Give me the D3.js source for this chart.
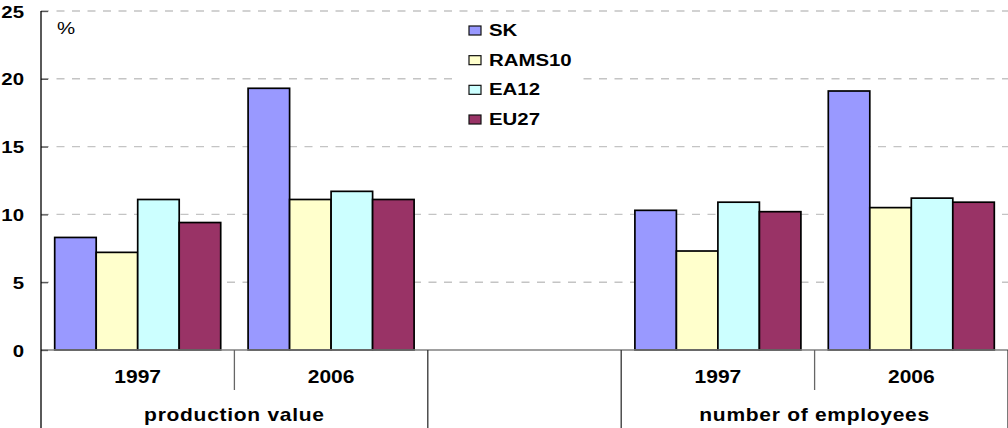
<!DOCTYPE html>
<html>
<head>
<meta charset="utf-8">
<script src="https://cdn.jsdelivr.net/npm/d3@7"></script>
<style>
  html, body { margin: 0; padding: 0; background: #fff; }
  svg { display: block; }
  text { font-family: "Liberation Sans", Arial, sans-serif; fill: #000; }
</style>
</head>
<body>
<svg id="chart" width="1008" height="428"></svg>
<script>
// Category slots along the x axis (an empty slot separates the two groups)
const groups = ["production value", "", "number of employees"];
const slotGroup = ["production value", "production value", "", "number of employees", "number of employees"];
const slotYear = ["1997", "2006", "", "1997", "2006"];

// Series, one value per slot (null = no bar)
const seriesNames = ["SK", "RAMS10", "EA12", "EU27"];
const SK     = [8.3, 19.3, null, 10.3, 19.1];
const RAMS10 = [7.2, 11.1, null, 7.3, 10.5];
const EA12   = [11.1, 11.7, null, 10.9, 11.2];
const EU27   = [9.4, 11.1, null, 10.2, 10.9];
const seriesColors = ["#9999FF", "#FFFFCC", "#CCFFFF", "#993366"];

const yTicks = [0, 5, 10, 15, 20, 25];
const yUnit = "%";

const seriesValues = [SK, RAMS10, EA12, EU27];

const svg = d3.select("#chart");
const plotLeft = 41, plotRight = 1008, plotTop = 11, plotBottom = 350, outerBottom = 428;
const SX = 1.2; // horizontal stretch of the lettering

const x = d3.scaleBand().domain(d3.range(slotYear.length)).range([plotLeft, plotRight]).padding(0);
const xs = d3.scaleBand().domain(seriesNames).range([0, x.bandwidth()]).paddingInner(0).paddingOuter(0.33);
const y = d3.scaleLinear().domain([0, 25]).range([plotBottom, plotTop]);

// dashed gridlines
svg.append("g").selectAll("line")
  .data(yTicks.filter(d => d > 0))
  .join("line")
  .attr("x1", plotLeft).attr("x2", plotRight)
  .attr("y1", d => y(d)).attr("y2", d => y(d))
  .attr("stroke", "#c4c4c4").attr("stroke-width", 1.4)
  .attr("stroke-dasharray", "8,7.5");

// legend background panel (covers gridlines behind it)
const legend = svg.append("g");
legend.append("rect").attr("x", 458).attr("y", 15).attr("width", 124).attr("height", 118).attr("fill", "#fff");

// bars
const barData = [];
seriesValues.forEach((vals, si) => vals.forEach((v, ci) => {
  if (v != null) barData.push({ s: seriesNames[si], c: ci, v, color: seriesColors[si] });
}));
svg.append("g").selectAll("rect")
  .data(barData)
  .join("rect")
  .attr("x", d => x(d.c) + xs(d.s))
  .attr("y", d => y(d.v))
  .attr("width", xs.bandwidth())
  .attr("height", d => y(0) - y(d.v))
  .attr("fill", d => d.color)
  .attr("stroke", "#000").attr("stroke-width", 1.7);

// x axis baseline
svg.append("line").attr("x1", plotLeft).attr("x2", plotRight).attr("y1", y(0)).attr("y2", y(0))
  .attr("stroke", "#808080").attr("stroke-width", 1.6);

// y axis
const yAxis = d3.axisLeft(y).tickValues(yTicks).tickSizeInner(-7).tickSizeOuter(0).tickFormat(d3.format("d"));
const yg = svg.append("g").attr("transform", `translate(${plotLeft},0)`).call(yAxis);
yg.select(".domain").remove();
yg.selectAll(".tick line").attr("stroke", "#555").attr("stroke-width", 1.3);
yg.selectAll(".tick text")
  .attr("x", null).attr("dy", null)
  .attr("transform", `translate(-17,6) scale(${SX},1)`)
  .attr("text-anchor", "end")
  .attr("fill", "#000")
  .style("font-size", "17px").style("font-weight", "bold")
  .style("font-family", "'Liberation Sans', Arial, sans-serif");
yg.attr("font-family", null).attr("font-size", null);
svg.append("line").attr("x1", plotLeft).attr("x2", plotLeft).attr("y1", plotTop).attr("y2", outerBottom)
  .attr("stroke", "#000").attr("stroke-width", 1.3);

// unit label
svg.append("text").attr("transform", `translate(57,34) scale(${SX},1)`)
  .style("font-size", "17px").text(yUnit);

// category separators: short between years, long between groups
const boundaries = d3.range(1, slotYear.length + 1);
const sameGroup = i => i < slotYear.length && slotGroup[i] === slotGroup[i - 1];
svg.append("g").selectAll("line")
  .data(boundaries)
  .join("line")
  .attr("x1", i => i < slotYear.length ? x(i) : plotRight)
  .attr("x2", i => i < slotYear.length ? x(i) : plotRight)
  .attr("y1", plotBottom)
  .attr("y2", i => sameGroup(i) ? 390 : outerBottom)
  .attr("stroke", i => sameGroup(i) ? "#666" : "#333")
  .attr("stroke-width", 1.3);

// year labels
svg.append("g").selectAll("text")
  .data(d3.range(slotYear.length).filter(i => slotYear[i]))
  .join("text")
  .attr("transform", i => `translate(${x(i) + x.bandwidth() / 2},383) scale(${SX},1)`)
  .attr("text-anchor", "middle")
  .style("font-size", "17.5px").style("font-weight", "bold")
  .text(i => slotYear[i]);

// group labels
const groupSpans = groups.filter(g => g).map(g => {
  const idx = d3.range(slotGroup.length).filter(i => slotGroup[i] === g);
  return { g, x0: x(d3.min(idx)), x1: x(d3.max(idx)) + x.bandwidth() };
});
svg.append("g").selectAll("text")
  .data(groupSpans)
  .join("text")
  .attr("transform", d => `translate(${(d.x0 + d.x1) / 2},421) scale(${SX},1)`)
  .attr("text-anchor", "middle")
  .style("font-size", "17.5px").style("font-weight", "bold")
  .style("letter-spacing", "0.6px")
  .text(d => d.g);

// legend entries
const ly = d3.scalePoint().domain(seriesNames).range([30, 119]);
const entries = legend.selectAll("g.entry")
  .data(seriesNames)
  .join("g").attr("class", "entry")
  .attr("transform", d => `translate(469,${ly(d)})`);
entries.append("rect")
  .attr("x", 0).attr("y", -4).attr("width", 12).attr("height", 9)
  .attr("fill", (d, i) => seriesColors[i])
  .attr("stroke", "#111").attr("stroke-width", 1.2);
entries.append("text")
  .attr("transform", `translate(20,6) scale(${SX},1)`)
  .style("font-size", "17px").style("font-weight", "bold")
  .text(d => d);
</script>
</body>
</html>
